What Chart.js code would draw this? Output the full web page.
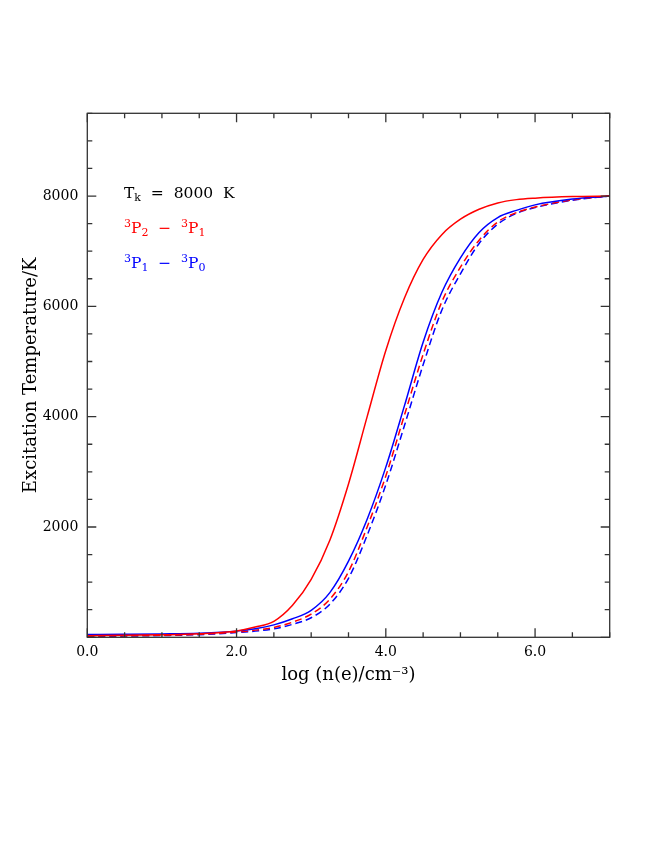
<!DOCTYPE html>
<html>
<head>
<meta charset="utf-8">
<script src="https://cdn.jsdelivr.net/npm/chart.js@4.4.1/dist/chart.umd.min.js"></script>
<style>
  html, body { margin: 0; padding: 0; background: #fff; }
  #wrap { width: 664px; height: 860px; }
</style>
</head>
<body>
<div id="wrap"><canvas id="c" width="664" height="860"></canvas></div>
<script>
// log electron density grid (x axis)
const logN = [0, 0.5, 1, 1.5, 2, 2.25, 2.5, 2.75, 3, 3.25, 3.5, 3.75, 4, 4.25, 4.5, 4.75, 5, 5.25, 5.5, 5.75, 6, 6.5, 7];

// excitation temperatures (K)
const redSolid = [30, 35, 45, 65, 115, 185, 290, 580, 1050, 1760, 2780, 4000, 5200, 6150, 6850, 7300, 7580, 7760, 7875, 7935, 7962, 7990, 8000];
const blueSolid = [50, 55, 62, 75, 112, 155, 225, 335, 490, 810, 1380, 2140, 3085, 4200, 5350, 6250, 6880, 7340, 7610, 7740, 7840, 7945, 8000];
const redDashed = [25, 28, 38, 55, 95, 130, 178, 275, 420, 690, 1190, 2000, 2925, 4030, 5130, 6080, 6710, 7200, 7530, 7700, 7800, 7930, 8000];
const blueDashed = [18, 22, 32, 48, 85, 112, 152, 235, 355, 600, 1070, 1850, 2765, 3840, 4940, 5930, 6590, 7140, 7490, 7685, 7790, 7925, 8000];

const xTickLabels = ["0.0", "2.0", "4.0", "6.0"];
const yTickLabels = ["2000", "4000", "6000", "8000"];

const FONT = "'DejaVu Serif', 'Liberation Serif', serif";
const RED = "#ff0000";
const BLUE = "#0000ff";
const AXIS = "#333333";

function pts(ys) {
  return logN.map((v, i) => ({ x: v, y: ys[i] }));
}

// frame + inward ticks on all four sides
const frameTicks = {
  id: "frameTicks",
  afterDraw(chart) {
    const { ctx, chartArea: a, scales: { x, y } } = chart;
    ctx.save();
    ctx.strokeStyle = AXIS;
    ctx.lineWidth = 1.3;
    ctx.strokeRect(a.left, a.top, a.right - a.left, a.bottom - a.top);
    ctx.beginPath();
    x.ticks.forEach((t) => {
      const px = x.getPixelForValue(t.value);
      const len = t.value % 2 === 0 ? 9 : 5;
      ctx.moveTo(px, a.bottom); ctx.lineTo(px, a.bottom - len);
      ctx.moveTo(px, a.top); ctx.lineTo(px, a.top + len);
    });
    y.ticks.forEach((t) => {
      const py = y.getPixelForValue(t.value);
      const len = t.value % 2000 === 0 ? 9 : 5;
      ctx.moveTo(a.left, py); ctx.lineTo(a.left + len, py);
      ctx.moveTo(a.right, py); ctx.lineTo(a.right - len, py);
    });
    ctx.stroke();
    ctx.restore();
  }
};

// text with super/subscripts
function drawRich(ctx, x, y, parts, color) {
  ctx.fillStyle = color;
  ctx.textBaseline = "alphabetic";
  parts.forEach(([txt, mode]) => {
    const small = mode !== "n";
    ctx.font = (small ? 11 : 15.5) + "px " + FONT;
    const dy = mode === "sup" ? -6 : mode === "sub" ? 3 : 0;
    ctx.fillText(txt, x, y + dy);
    x += ctx.measureText(txt).width;
  });
}

const labelsPlugin = {
  id: "labelsPlugin",
  afterDraw(chart) {
    const ctx = chart.ctx;
    ctx.save();
    drawRich(ctx, 124, 198, [["T", "n"], ["k", "sub"], ["  =  8000  K", "n"]], "#000");
    drawRich(ctx, 124, 233, [["3", "sup"], ["P", "n"], ["2", "sub"], ["  \u2212  ", "n"], ["3", "sup"], ["P", "n"], ["1", "sub"]], RED);
    drawRich(ctx, 124, 268, [["3", "sup"], ["P", "n"], ["1", "sub"], ["  \u2212  ", "n"], ["3", "sup"], ["P", "n"], ["0", "sub"]], BLUE);
    ctx.restore();
  }
};

function line(data, color, dashed) {
  return {
    data: pts(data),
    borderColor: color,
    borderWidth: 1.5,
    borderDash: dashed ? [7, 4] : [],
    pointRadius: 0,
    fill: false,
    cubicInterpolationMode: "monotone"
  };
}

new Chart(document.getElementById("c"), {
  type: "line",
  data: {
    datasets: [
      line(redSolid, RED, false),
      line(blueSolid, BLUE, false),
      line(redDashed, RED, true),
      line(blueDashed, BLUE, true)
    ]
  },
  options: {
    responsive: false,
    animation: false,
    devicePixelRatio: 1,
    layout: { padding: { left: 0, right: 54.3, top: 113.3, bottom: 162.7 } },
    plugins: { legend: { display: false }, tooltip: { enabled: false } },
    scales: {
      x: {
        type: "linear",
        min: 0,
        max: 7,
        afterFit: (s) => { s.height = 60; },
        grid: { display: false, drawTicks: false },
        border: { display: false },
        ticks: {
          stepSize: 0.5,
          autoSkip: false,
          maxRotation: 0,
          padding: 7,
          color: "#000",
          font: { family: FONT, size: 14 },
          callback: (v) => (v % 2 === 0 ? xTickLabels[v / 2] : "")
        },
        title: {
          display: true,
          text: "log (n(e)/cm\u207B\u00B3)",
          color: "#000",
          font: { family: FONT, size: 18 },
          padding: { top: 0, bottom: 11.5 }
        }
      },
      y: {
        min: 0,
        max: 9500,
        afterFit: (s) => { s.width = 87.3; },
        grid: { display: false, drawTicks: false },
        border: { display: false },
        ticks: {
          stepSize: 500,
          autoSkip: false,
          padding: 9,
          color: "#000",
          font: { family: FONT, size: 14 },
          callback: (v) => (v > 0 && v % 2000 === 0 ? yTickLabels[v / 2000 - 1] : "")
        },
        title: {
          display: true,
          text: "Excitation Temperature/K",
          color: "#000",
          font: { family: FONT, size: 18 },
          padding: { top: 21, bottom: 0 }
        }
      }
    }
  },
  plugins: [frameTicks, labelsPlugin]
});
</script>
</body>
</html>
